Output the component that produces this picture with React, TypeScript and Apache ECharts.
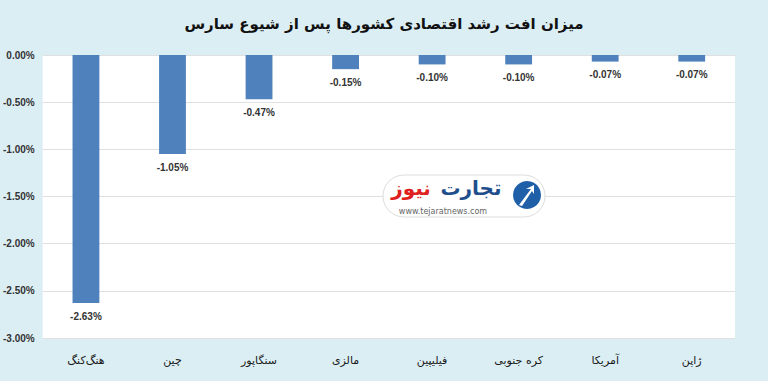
import React, { useEffect, useRef } from "react";
import * as echarts from "echarts";

const title = "میزان افت رشد اقتصادی کشورها پس از شیوع سارس";
const categories = ["هنگ‌کنگ", "چین", "سنگاپور", "مالزی", "فیلیپین", "کره جنوبی", "آمریکا", "ژاپن"];
const values = [-2.63, -1.05, -0.47, -0.15, -0.1, -0.1, -0.07, -0.07];
const yMin = -3;
const yMax = 0;
const yInterval = 0.5;

const FONT = "'DejaVu Sans', 'Noto Sans', sans-serif";

export default function App() {
  const ref = useRef<HTMLDivElement>(null);
  useEffect(() => {
    document.body.style.margin = "0";
    const chart = echarts.init(ref.current!, null, { renderer: "svg" });
    chart.setOption({
      animation: false,
      backgroundColor: "#dbeef4",
      title: {
        text: title,
        left: "center",
        top: 11,
        textStyle: { fontFamily: FONT, fontSize: 15, fontWeight: "bold", color: "#111" },
      },
      grid: {
        left: 41,
        right: 33,
        top: 55,
        bottom: 43,
        show: true,
        backgroundColor: "#ffffff",
        borderWidth: 0,
      },
      xAxis: {
        type: "category",
        data: categories,
        position: "bottom",
        axisLine: { show: false, onZero: false },
        axisTick: { show: false },
        axisLabel: {
          margin: 17,
          fontFamily: FONT,
          fontSize: 11,
          color: "#1a1a1a",
        },
      },
      yAxis: {
        type: "value",
        min: yMin,
        max: yMax,
        interval: yInterval,
        axisLine: { show: false },
        axisTick: { show: false },
        splitLine: { lineStyle: { color: "#e0e0e0", width: 1 } },
        axisLabel: {
          margin: 8,
          fontFamily: "Arial, 'Liberation Sans', sans-serif",
          fontSize: 10,
          fontWeight: "bold",
          color: "#333",
          formatter: (v: number) => (Math.abs(v) < 1e-9 ? "0.00%" : v.toFixed(2) + "%"),
        },
      },
      series: [
        {
          type: "bar",
          data: values,
          barWidth: "31%",
          itemStyle: { color: "#4f81bd" },
          label: {
            show: true,
            position: "bottom",
            distance: 8,
            fontFamily: "Arial, 'Liberation Sans', sans-serif",
            fontSize: 10,
            fontWeight: "bold",
            color: "#333",
            formatter: (p: any) => p.value.toFixed(2) + "%",
          },
        },
      ],
      graphic: [
        {
          type: "rect",
          shape: { x: 383, y: 175, width: 162, height: 42, r: 21 },
          style: { fill: "#ffffff", stroke: "#dddddd", lineWidth: 1 },
          z: 100,
        },
        {
          type: "circle",
          shape: { cx: 527, cy: 195, r: 14 },
          style: { fill: "#1f5fa8" },
          z: 101,
        },
        {
          type: "polygon",
          shape: { points: [[519, 205], [531, 189], [526, 189], [534, 185], [534, 194], [532, 191], [522, 206]] },
          style: { fill: "#ffffff" },
          z: 102,
        },
        {
          type: "text",
          x: 471,
          y: 188,
          style: {
            text: "تجارت",
            fontFamily: FONT,
            fontSize: 20,
            fontWeight: "bold",
            fill: "#1f4e8c",
            align: "center",
            verticalAlign: "middle",
          },
          z: 103,
        },
        {
          type: "text",
          x: 411,
          y: 188,
          style: {
            text: "نیوز",
            fontFamily: FONT,
            fontSize: 20,
            fontWeight: "bold",
            fill: "#e02020",
            align: "center",
            verticalAlign: "middle",
          },
          z: 103,
        },
        {
          type: "text",
          x: 443,
          y: 211,
          style: {
            text: "www.tejaratnews.com",
            fontFamily: "'DejaVu Sans', sans-serif",
            fontSize: 8,
            fill: "#666666",
            align: "center",
            verticalAlign: "middle",
          },
          z: 103,
        },
      ],
    });
    return () => chart.dispose();
  }, []);
  return <div ref={ref} style={{ width: 768, height: 381 }} />;
}
